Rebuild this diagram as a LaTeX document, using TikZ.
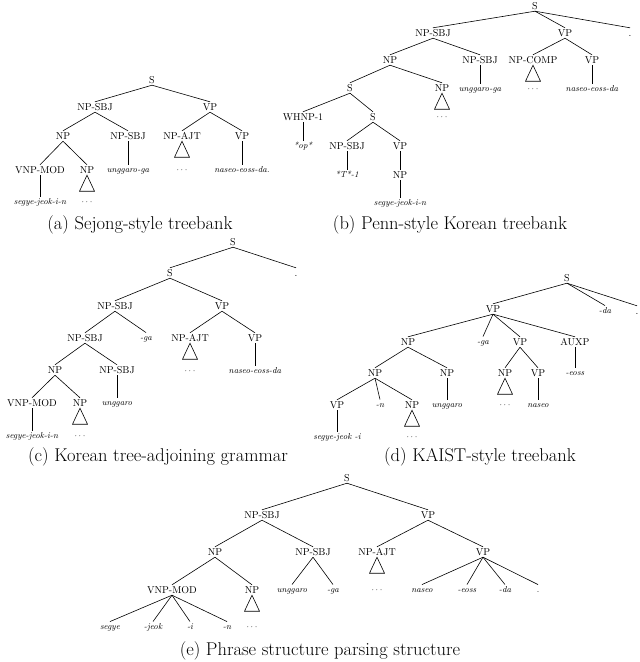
\documentclass[tikz,border=0pt]{standalone}
\begin{document}
\begin{tikzpicture}[x=1pt,y=-1pt,
  n/.style={font=\fontsize{10}{12}\selectfont,inner sep=1.5pt,text height=7pt,text depth=0pt},
  w/.style={font=\fontsize{8.7}{10}\selectfont\itshape,inner sep=1.5pt,text height=6pt,text depth=1.5pt},
  capt/.style={font=\fontsize{18.5}{20}\selectfont,inner sep=0pt},
  e/.style={line width=0.6pt}]
\useasboundingbox (0,0) rectangle (640,662);
\newcommand\mytri[1]{\draw[e] (#1.south) -- ++(-7.5,16) -- ++(15,0) -- cycle;}
\newcommand\edges[1]{\foreach \p/\c in {#1} \draw[e] (\p.south) -- (\c.north);}
% (a)
\node[n] (aS) at (152,80) {S};
\node[n] (aNS) at (95,107) {NP-SBJ};
\node[n] (aVP) at (210,107) {VP};
\node[n] (aNP) at (63,136) {NP};
\node[n] (aNS2) at (128,136) {NP-SBJ};
\node[n] (aAJT) at (182,136) {NP-AJT};
\node[n] (aVP2) at (242,136) {VP};
\node[n] (aVNP) at (40,170) {VNP-MOD};
\node[n] (aNP2) at (87,170) {NP};
\node[w] (aung) at (128,170) {unggaro-ga};
\node[w] (adots1) at (182,170) {$\cdots$};
\node[w] (anas) at (242,170) {naseo-eoss-da.};
\node[w] (aseg) at (40,202) {segye-jeok-i-n};
\node[w] (adots2) at (87,202) {$\cdots$};
\edges{aS/aNS,aS/aVP,aNS/aNP,aNS/aNS2,aVP/aAJT,aVP/aVP2,aNP/aVNP,aNP/aNP2,aNS2/aung,aVP2/anas,aVNP/aseg}
\mytri{aAJT}\mytri{aNP2}
\node[capt] (acap) at (140,225) {(a) Sejong-style treebank};
% (b)
\node[n] (bS) at (535,6) {S};
\node[n] (bNS) at (433,33) {NP-SBJ};
\node[n] (bVP) at (565,33) {VP};
\node[n] (bdot) at (630,33) {.};
\node[n] (bNP) at (390,60) {NP};
\node[n] (bNS2) at (480,60) {NP-SBJ};
\node[n] (bCOMP) at (533,60) {NP-COMP};
\node[n] (bVP2) at (592,60) {VP};
\node[w] (bdots1) at (533,89) {$\cdots$};
\node[w] (bung) at (480,89) {unggaro-ga};
\node[w] (bnas) at (592,89) {naseo-eoss-da};
\node[n] (bS2) at (350,88) {S};
\node[n] (bNP2) at (442,88) {NP};
\node[w] (bdots2) at (442,117) {$\cdots$};
\node[n] (bWH) at (303,117) {WHNP-1};
\node[n] (bS3) at (373,117) {S};
\node[w] (bop) at (303,146) {*op*};
\node[n] (bNS3) at (347,146) {NP-SBJ};
\node[n] (bVP3) at (400,146) {VP};
\node[w] (bT) at (347,175) {*T*-1};
\node[n] (bNP3) at (400,175) {NP};
\node[w] (bseg) at (400,203) {segye-jeok-i-n};
\edges{bS/bNS,bS/bVP,bS/bdot,bNS/bNP,bNS/bNS2,bVP/bCOMP,bVP/bVP2,bNS2/bung,bVP2/bnas,bNP/bS2,bNP/bNP2,bS2/bWH,bS2/bS3,bWH/bop,bS3/bNS3,bS3/bVP3,bNS3/bT,bVP3/bNP3,bNP3/bseg}
\mytri{bCOMP}\mytri{bNP2}
\node[capt] (bcap) at (450,225) {(b) Penn-style Korean treebank};
% (c)
\node[n] (cS) at (233,242) {S};
\node[n] (cdot) at (296,273) {.};
\node[n] (cS2) at (170,273) {S};
\node[n] (cNS) at (115,306) {NP-SBJ};
\node[n] (cVP) at (222,306) {VP};
\node[n] (cNS2) at (85,338) {NP-SBJ};
\node[w] (cga) at (146,338) {-ga};
\node[n] (cAJT) at (190,338) {NP-AJT};
\node[n] (cVP2) at (255,338) {VP};
\node[n] (cNP) at (55,370) {NP};
\node[n] (cNS3) at (117,370) {NP-SBJ};
\node[w] (cdots1) at (190,371) {$\cdots$};
\node[w] (cnas) at (255,371) {naseo-eoss-da};
\node[n] (cVNP) at (32,403) {VNP-MOD};
\node[n] (cNP2) at (80,403) {NP};
\node[w] (cung) at (117,403) {unggaro};
\node[w] (cseg) at (32,436) {segye-jeok-i-n};
\node[w] (cdots2) at (80,436) {$\cdots$};
\edges{cS/cS2,cS/cdot,cS2/cNS,cS2/cVP,cNS/cNS2,cNS/cga,cVP/cAJT,cVP/cVP2,cVP2/cnas,cNS2/cNP,cNS2/cNS3,cNS3/cung,cNP/cVNP,cNP/cNP2,cVNP/cseg}
\mytri{cAJT}\mytri{cNP2}
\node[capt] (ccap) at (158,457) {(c) Korean tree-adjoining grammar};
% (d)
\node[n] (dS) at (567,278) {S};
\node[w] (dda) at (605,311) {-da};
\node[n] (ddot) at (637,311) {.};
\node[n] (dVP) at (493,309) {VP};
\node[n] (dNP) at (408,342) {NP};
\node[w] (dga) at (483,342) {-ga};
\node[n] (dVP2) at (520,342) {VP};
\node[n] (dAUX) at (575,342) {AUXP};
\node[n] (dNP2) at (375,373) {NP};
\node[n] (dNP3) at (447,373) {NP};
\node[n] (dNP4) at (505,373) {NP};
\node[n] (dVP3) at (538,373) {VP};
\node[w] (deoss) at (575,373) {-eoss};
\node[n] (dVP4) at (337,405) {VP};
\node[w] (dn) at (380,405) {-n};
\node[n] (dNP5) at (412,405) {NP};
\node[w] (dung) at (447,405) {unggaro};
\node[w] (ddots1) at (505,405) {$\cdots$};
\node[w] (dnas) at (538,405) {naseo};
\node[w] (dseg) at (337,437) {segye-jeok -i};
\node[w] (ddots2) at (412,437) {$\cdots$};
\edges{dS/dVP,dS/dda,dS/ddot,dVP/dNP,dVP/dga,dVP/dVP2,dVP/dAUX,dAUX/deoss,dNP/dNP2,dNP/dNP3,dNP3/dung,dVP2/dNP4,dVP2/dVP3,dVP3/dnas,dNP2/dVP4,dNP2/dn,dNP2/dNP5,dVP4/dseg}
\mytri{dNP4}\mytri{dNP5}
\node[capt] (dcap) at (480,457) {(d) KAIST-style treebank};
% (e)
\node[n] (eS) at (347,478) {S};
\node[n] (eNS) at (262,515) {NP-SBJ};
\node[n] (eVP) at (428,515) {VP};
\node[n] (eNP) at (215,552) {NP};
\node[n] (eNS2) at (313,552) {NP-SBJ};
\node[n] (eAJT) at (377,552) {NP-AJT};
\node[n] (eVP2) at (483,552) {VP};
\node[n] (eVNP) at (172,590) {VNP-MOD};
\node[n] (eNP2) at (252,590) {NP};
\node[w] (eung) at (292,590) {unggaro};
\node[w] (ega) at (333,590) {-ga};
\node[w] (edots1) at (377,590) {$\cdots$};
\node[w] (enas) at (422,590) {naseo};
\node[w] (eeoss) at (467,590) {-eoss};
\node[w] (eda) at (505,590) {-da};
\node[w] (edot) at (538,590) {.};
\node[w] (eseg) at (110,627) {segye};
\node[w] (ejeok) at (153,627) {-jeok};
\node[w] (ei) at (190,627) {-i};
\node[w] (en) at (227,627) {-n};
\node[w] (edots2) at (252,627) {$\cdots$};
\edges{eS/eNS,eS/eVP,eNS/eNP,eNS/eNS2,eVP/eAJT,eVP/eVP2,eNP/eVNP,eNP/eNP2,eNS2/eung,eNS2/ega,eVP2/enas,eVP2/eeoss,eVP2/eda,eVP2/edot,eVNP/eseg,eVNP/ejeok,eVNP/ei,eVNP/en}
\mytri{eAJT}\mytri{eNP2}
\node[capt] (ecap) at (320,651) {(e) Phrase structure parsing structure};
\end{tikzpicture}
\end{document}
